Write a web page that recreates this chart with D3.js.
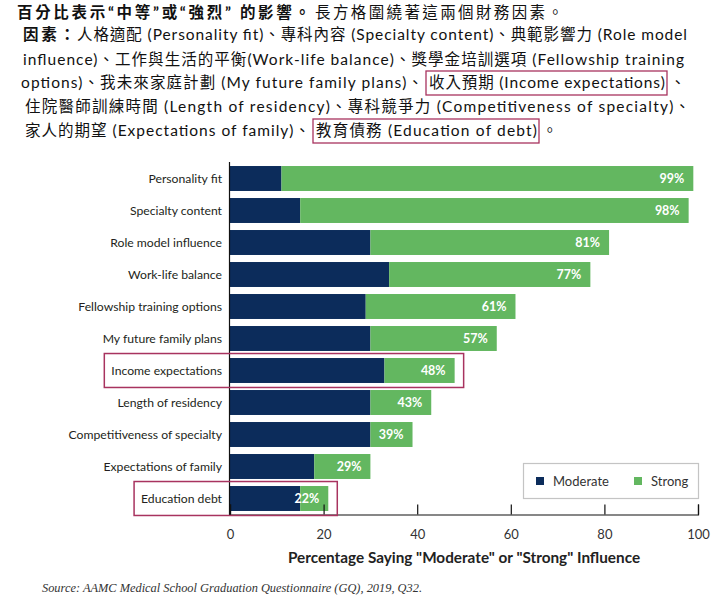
<!DOCTYPE html>
<html><head><meta charset="utf-8">
<script src="https://cdn.jsdelivr.net/npm/d3@7"></script>
<style>body{margin:0;background:#fff} svg{display:block}</style>
</head><body>
<svg id="c" width="725" height="600"></svg>
<script>
// ---------- data ----------
const categories = ["Personality fit","Specialty content","Role model influence","Work-life balance",
  "Fellowship training options","My future family plans","Income expectations","Length of residency",
  "Competitiveness of specialty","Expectations of family","Education debt"];
const moderate = [11,15,30,34,29,30,33,30,30,18,15];
const strong   = [88,83,51,43,32,27,15,13,9,12,6];
const totalLabels = ["99%","98%","81%","77%","61%","57%","48%","43%","39%","29%","22%"];
const seriesNames = ["Moderate","Strong"];
const xTicks = [0,20,40,60,80,100];
const highlighted = ["Income expectations","Education debt"];
const axisTitle = 'Percentage Saying "Moderate" or "Strong" Influence';
const sourceText = "Source: AAMC Medical School Graduation Questionnaire (GQ), 2019, Q32.";
const headerLines = [
  [{t:"百分比表示“中等”或“強烈” 的影響。", b:true},{t:"長方格圍繞著這兩個財務因素。"}],
  [{t:"因素：", b:true},{t:"人格適配 (Personality fit)、專科內容 (Specialty content)、典範影響力 (Role model"}],
  [{t:"influence)、工作與生活的平衡(Work-life balance)、獎學金培訓選項 (Fellowship training"}],
  [{t:"options)、我未來家庭計劃 (My future family plans)、"},{t:"收入預期 (Income expectations)", box:true},{t:"、"}],
  [{t:"住院醫師訓練時間 (Length of residency)、專科競爭力 (Competitiveness of specialty)、"}],
  [{t:"家人的期望 (Expectations of family)、"},{t:"教育債務 (Education of debt)", box:true},{t:"。"}]
];

// ---------- layout ----------
const NAVY = "#0c2c5b", GREEN = "#63b760", RED = "#a8335f";
const headerBase = [17.5, 40, 65, 88, 112, 136];
const headerPos = [
  [[17,293],[315,248]],
  [[23,52],[77,610]],
  [[23,661]],
  [[21,402],[429,236],[670,null]],
  [[25,665]],
  [[25,285],[316,221],[542,null]]
];
const svg = d3.select("#c");
svg.append("rect").attr("width",725).attr("height",600).attr("fill","#fff");

const hdr = svg.append("g").attr("font-family","Lato, 'Noto Sans CJK TC', sans-serif")
  .attr("font-size",15.5).attr("fill","#111");
headerLines.forEach((line,i)=>{
  line.forEach((seg,j)=>{
    const [x,w] = headerPos[i][j];
    const t = hdr.append("text").attr("x",x).attr("y",headerBase[i]).text(seg.t)
      .attr("font-weight", seg.b ? 700 : 400);
    if (w) t.attr("textLength",w).attr("lengthAdjust","spacing");
    if (seg.box) {
      hdr.append("rect").attr("x",x-3).attr("y",headerBase[i]-17)
        .attr("width",w+5).attr("height",24)
        .attr("fill","none").attr("stroke",RED).attr("stroke-width",1.3);
    }
  });
});

// ---------- chart ----------
const x = d3.scaleLinear().domain([0,100]).range([230,698]);
const y = d3.scaleBand().domain(categories).range([162.5,514.5]).paddingInner(0.22).paddingOuter(0.11);
const data = categories.map((c,i)=>({cat:c, Moderate:moderate[i], Strong:strong[i], label:totalLabels[i]}));
const stacked = d3.stack().keys(seriesNames)(data);
const color = d3.scaleOrdinal().domain(seriesNames).range([NAVY, GREEN]);

const g = svg.append("g").attr("font-family","Lato, 'Open Sans', sans-serif");

g.selectAll("g.layer").data(stacked).join("g").attr("class","layer")
  .attr("fill", d=>color(d.key))
  .selectAll("rect").data(d=>d).join("rect")
  .attr("x", d=>x(d[0])).attr("width", d=>x(d[1])-x(d[0]))
  .attr("y", d=>y(d.data.cat)).attr("height", y.bandwidth());

// value labels
g.selectAll("text.val").data(data).join("text").attr("class","val")
  .attr("x", d=>x(d.Moderate+d.Strong)-9)
  .attr("y", d=>y(d.cat)+y.bandwidth()/2).attr("dy","0.35em")
  .attr("text-anchor","end").attr("fill","#fff").attr("font-weight",700)
  .attr("font-size",12.5).text(d=>d.label);

// category labels
const catLabels = g.selectAll("text.cat").data(categories).join("text").attr("class","cat")
  .attr("x",222).attr("y", d=>y(d)+y.bandwidth()/2).attr("dy","0.35em")
  .attr("text-anchor","end").attr("fill","#231f20").attr("font-size",12.2).text(d=>d);

// y axis line
g.append("line").attr("x1",x(0)-0.5).attr("x2",x(0)-0.5).attr("y1",162).attr("y2",515)
  .attr("stroke","#111").attr("stroke-width",1.2);

// x axis
const xAxis = g.append("g").attr("transform","translate(0,514.5)")
  .call(d3.axisBottom(x).tickValues(xTicks).tickSize(-10).tickPadding(15).tickFormat(d3.format("d")));
xAxis.select(".domain").attr("stroke","#111").attr("stroke-width",1.2);
xAxis.selectAll(".tick line").attr("stroke","#111").attr("stroke-width",1.2);
xAxis.selectAll(".tick text").attr("font-size",13).attr("fill","#333")
  .attr("font-family","Lato, 'Open Sans', sans-serif");

g.append("text").attr("x",(x(0)+x(100))/2).attr("y",563).attr("text-anchor","middle")
  .attr("font-size",15.3).attr("font-weight",700).attr("fill","#222").text(axisTitle);

// highlight boxes
highlighted.forEach(h=>{
  const i = categories.indexOf(h);
  const node = catLabels.filter(d=>d===h).node();
  const bb = node.getBBox();
  const x0 = bb.x - 7, x1 = x(moderate[i]+strong[i]) + 9;
  g.append("rect").attr("x",x0).attr("y",y(h)-4.5)
    .attr("width",x1-x0).attr("height",y.bandwidth()+9)
    .attr("fill","none").attr("stroke",RED).attr("stroke-width",1.5);
});

// legend
const lg = g.append("g");
lg.append("rect").attr("x",523.5).attr("y",463.5).attr("width",175).attr("height",35)
  .attr("fill","#fff").attr("stroke","#c4c4c4").attr("stroke-width",1.2);
const legX = [536, 634];
seriesNames.forEach((s,i)=>{
  lg.append("rect").attr("x",legX[i]).attr("y",477).attr("width",8).attr("height",8).attr("fill",color(s));
  lg.append("text").attr("x",legX[i]+17).attr("y",481).attr("dy","0.35em")
    .attr("font-size",13).attr("fill","#333").text(s);
});

// source
svg.append("text").attr("x",42).attr("y",592).attr("font-family","'Liberation Serif', serif")
  .attr("font-style","italic").attr("font-size",12).attr("fill","#333")
  .attr("textLength",380).attr("lengthAdjust","spacingAndGlyphs").text(sourceText);
</script>
</body></html>
